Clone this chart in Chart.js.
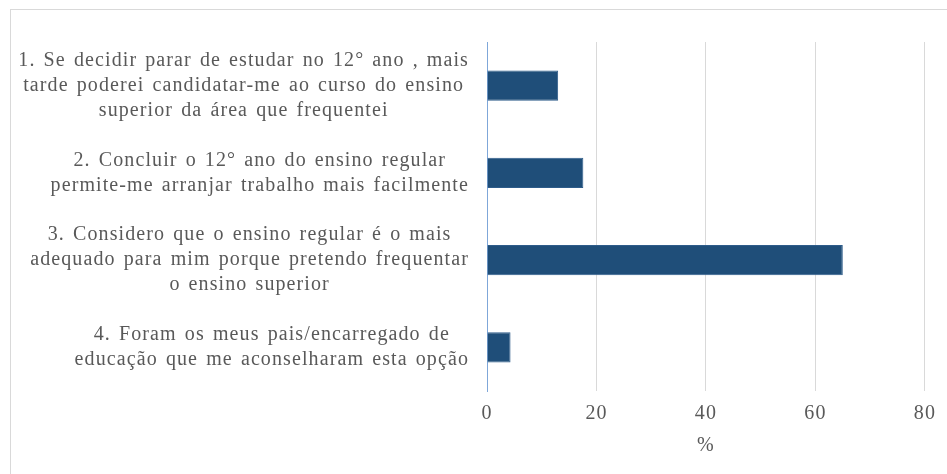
<!DOCTYPE html>
<html><head><meta charset="utf-8">
<script src="https://cdn.jsdelivr.net/npm/chart.js@4"></script>
<style>
html,body{margin:0;padding:0;background:#fff;}
#wrap{position:absolute;left:0;top:0;width:947px;height:474px;}
#frame{position:absolute;left:10px;top:9px;width:960px;height:500px;border:1px solid #d9d9d9;box-sizing:border-box;pointer-events:none;}
</style></head>
<body>
<div id="wrap"><canvas id="c" width="947" height="474"></canvas><div id="frame"></div></div>
<script>
const categories = [
  ["1. Se decidir parar de estudar no 12° ano , mais", "tarde poderei candidatar-me ao curso do ensino", "superior da área que frequentei"],
  ["2. Concluir o 12° ano do ensino regular", "permite-me arranjar trabalho mais facilmente"],
  ["3. Considero que o ensino regular é o mais", "adequado para mim porque pretendo frequentar", "o ensino superior"],
  ["4. Foram os meus pais/encarregado de", "educação que me aconselharam esta opção"]
];
const values = [13.0, 17.6, 65.0, 4.3];
const xTicks = [0, 20, 40, 60, 80];
const xTitle = "%";

const FONT = "'Liberation Serif', 'Times New Roman', serif";
const TXT = '#595959';
const LS = '1.1px', WS = '2px';

const spacingPlugin = {
  id: 'spacing',
  beforeUpdate(chart) { chart.ctx.letterSpacing = LS; chart.ctx.wordSpacing = WS; },
  beforeDraw(chart) { chart.ctx.letterSpacing = LS; chart.ctx.wordSpacing = WS; }
};

// Category labels: each wrapped label is a block whose lines are centred within it,
// and the block is right-aligned next to the value axis (as in the reference).
const blockLabels = {
  id: 'blockLabels',
  afterDraw(chart) {
    const ys = chart.scales.y;
    const ctx = chart.ctx;
    ctx.save();
    ctx.letterSpacing = LS; ctx.wordSpacing = WS;
    ctx.font = "20px " + FONT;
    ctx.fillStyle = TXT;
    ctx.textAlign = 'center';
    ctx.textBaseline = 'middle';
    const lh = 25;
    const rightEdge = ys.right - 18;
    chart.data.labels.forEach((lab, i) => {
      const lines = Array.isArray(lab) ? lab : [lab];
      const w = Math.max(...lines.map(l => ctx.measureText(l).width));
      const cx = rightEdge - w / 2;
      const cy = ys.getPixelForTick(i);
      const y0 = cy - (lines.length - 1) * lh / 2;
      lines.forEach((l, k) => ctx.fillText(l, cx, y0 + k * lh));
    });
    ctx.restore();
  }
};

new Chart(document.getElementById('c'), {
  type: 'bar',
  plugins: [spacingPlugin, blockLabels],
  data: {
    labels: categories,
    datasets: [{
      data: values,
      backgroundColor: '#1F4E79',
      borderColor: '#2E5C8A',
      borderWidth: 1,
      categoryPercentage: 1,
      barPercentage: 0.344
    }]
  },
  options: {
    indexAxis: 'y',
    responsive: false,
    animation: false,
    layout: { padding: { left: 10, right: 20, top: 42, bottom: 16 } },
    plugins: { legend: { display: false }, tooltip: { enabled: false } },
    scales: {
      y: {
        afterFit: s => { s.width = 477; },
        grid: { display: false },
        border: { display: true, color: '#7fa7d9', width: 1 },
        ticks: { display: false }
      },
      x: {
        min: 0, max: 80,
        afterFit: s => { s.height = 67; },
        afterBuildTicks: s => { s.ticks = xTicks.map(v => ({ value: v })); },
        grid: { color: c => (c.tick && c.tick.value === 0) ? 'rgba(0,0,0,0)' : '#d9d9d9', lineWidth: 1, drawTicks: false },
        border: { display: false },
        ticks: {
          padding: 11,
          color: TXT,
          font: { family: FONT, size: 20, lineHeight: 1.2 }
        },
        title: {
          display: true,
          text: xTitle,
          color: TXT,
          padding: { top: 10, bottom: 0 },
          font: { family: FONT, size: 20, lineHeight: 1.2 }
        }
      }
    }
  }
});
</script>
</body></html>
